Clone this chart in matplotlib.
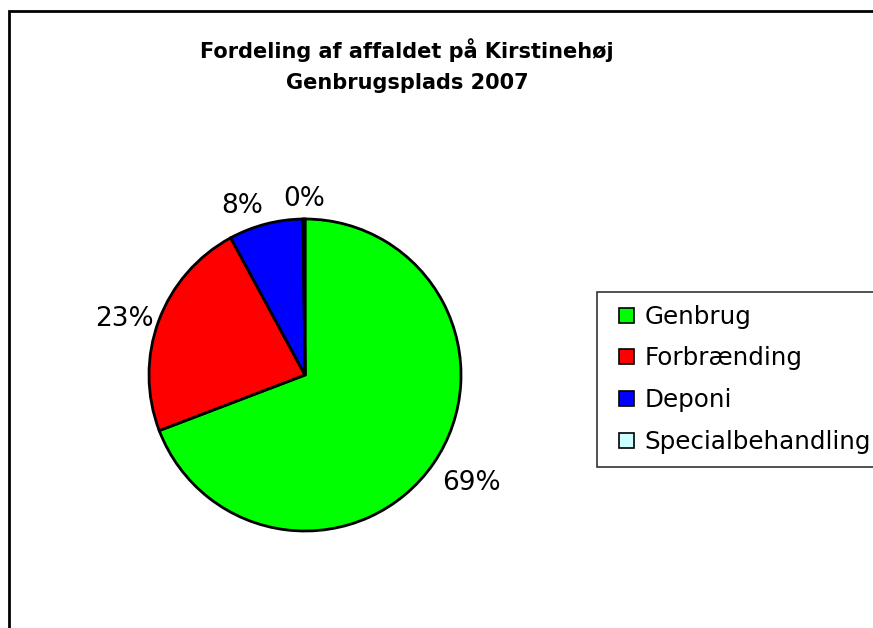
import matplotlib
matplotlib.use("Agg")
import matplotlib.pyplot as plt
from matplotlib.patches import Rectangle, Patch
from matplotlib.legend_handler import HandlerPatch
import numpy as np

categories = ["Genbrug", "Forbrænding", "Deponi", "Specialbehandling"]
values = [69.2, 22.9, 7.7, 0.2]
colors = ["#00FF00", "#FF0000", "#0000FF", "#CCFFFF"]
title = "Fordeling af affaldet på Kirstinehøj\nGenbrugsplads 2007"

W, H = 873, 628
fig = plt.figure(figsize=(W / 100, H / 100), dpi=100)
fig.patch.set_facecolor("white")

# outer chart frame (right and bottom edges lie outside the image)
fig.add_artist(Rectangle((9 / W, -0.1), 1.2, 1 - 11 / H + 0.1,
                         transform=fig.transFigure, fill=False,
                         edgecolor="black", linewidth=2))

cx, cy, R = 305, 375, 156
ax = fig.add_axes([(cx - R) / W, (H - cy - R) / H, 2 * R / W, 2 * R / H])
wedges, _ = ax.pie(values, colors=colors, startangle=90, counterclock=False,
                   wedgeprops=dict(edgecolor="black", linewidth=2),
                   radius=1.0)
ax.set_xlim(-1, 1)
ax.set_ylim(-1, 1)
ax.set_aspect("equal")
ax.axis("off")

total = sum(values)
for w, v in zip(wedges, values):
    ang = np.deg2rad((w.theta1 + w.theta2) / 2)
    c, s = np.cos(ang), np.sin(ang)
    ha = "center" if abs(c) < 0.1 else ("left" if c > 0 else "right")
    va = "center" if abs(s) < 0.4 else ("baseline" if s > 0 else "top")
    d = 1.07 - 0.04 * abs(c) * (abs(s) < 0.4)
    ax.text(d * c, d * s + 0.015 * (abs(c) < 0.1), f"{round(v / total * 100)}%",
            ha=ha, va=va, fontsize=19, color="black", clip_on=False)

fig.text(407 / W, 1 - 38 / H, title, ha="center", va="top",
         fontsize=15, fontweight="bold", linespacing=1.7)


def square_handle(legend, orig_handle, xdescent, ydescent, width, height, fontsize):
    size = 15 * 72 / 100
    return Rectangle((width - xdescent - size, (height - size) / 2 - ydescent),
                     size, size)


handles = [Patch(facecolor=c, edgecolor="black", linewidth=1.2) for c in colors]
leg = fig.legend(handles, categories, loc="upper left",
                 bbox_to_anchor=(597 / W, 1 - 292 / H), fontsize=17.7,
                 frameon=True, fancybox=False, edgecolor="black",
                 handlelength=0.97, handleheight=0.6, handletextpad=0.45,
                 labelspacing=0.72, borderpad=0.52, borderaxespad=0,
                 handler_map={Patch: HandlerPatch(patch_func=square_handle)})
leg.get_frame().set_linewidth(1.2)

fig.savefig("out.png", dpi=100)
